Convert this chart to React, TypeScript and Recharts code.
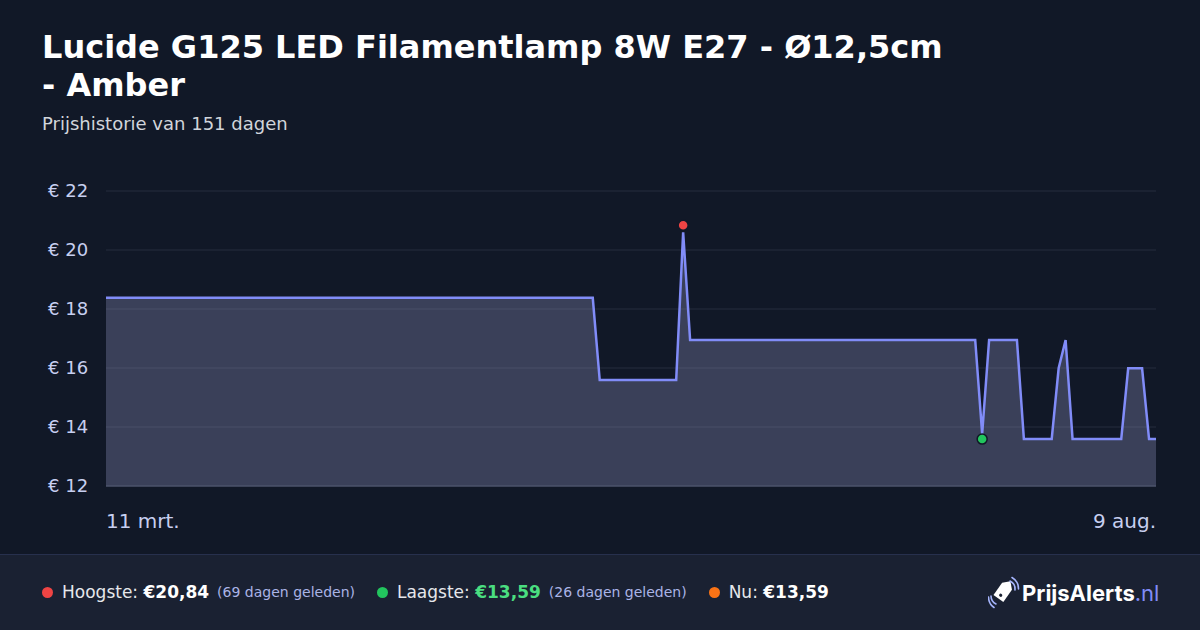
import React from "react";
import {
  ComposedChart,
  Area,
  XAxis,
  YAxis,
  CartesianGrid,
  ReferenceDot,
} from "recharts";

// day index since 11 mrt. (0) up to 9 aug. (151)
const days = [0, 70, 71, 82, 83, 84, 125, 126, 127, 131, 132, 136, 137, 138, 139, 146, 147, 149, 150, 151];
const prices = [18.38, 18.38, 15.59, 15.59, 20.6, 16.95, 16.95, 13.77, 16.95, 16.95, 13.59, 13.59, 15.99, 16.95, 13.59, 13.59, 15.99, 15.99, 13.59, 13.59];

const yTicks = [12, 14, 16, 18, 20, 22];
const xTickDays = [0, 151];
const xTickLabels = ["11 mrt.", "9 aug."];

const highDay = 83;
const highPrice = 20.84;
const lowDay = 126;
const lowPrice = 13.59;

const title1 = "Lucide G125 LED Filamentlamp 8W E27 - Ø12,5cm";
const title2 = "- Amber";
const subtitle = "Prijshistorie van 151 dagen";

const stats = [
  { color: "#ef4444", label: "Hoogste:", value: "€20,84", valueColor: "#ffffff", note: "(69 dagen geleden)" },
  { color: "#22c55e", label: "Laagste:", value: "€13,59", valueColor: "#4ade80", note: "(26 dagen geleden)" },
  { color: "#f97316", label: "Nu:", value: "€13,59", valueColor: "#ffffff", note: "" },
];

const data = days.map((d, i) => ({ day: d, price: prices[i] }));

const FONT = "'DejaVu Sans', sans-serif";

const YTick = (props: any) => (
  <text x={48} y={props.y} dy="0.35em" fill="#c7cff0" fontSize={18} fontFamily={FONT} textAnchor="start">
    {`€ ${props.payload.value}`}
  </text>
);

const XTick = (props: any) => {
  const idx = xTickDays.indexOf(props.payload.value);
  const anchor = idx === 0 ? "start" : "end";
  return (
    <text x={props.x} y={props.y} dy={34} fill="#c7cff0" fontSize={20} fontFamily={FONT} textAnchor={anchor}>
      {xTickLabels[idx]}
    </text>
  );
};

const Logo = () => (
  <div style={{ position: "absolute", left: 988, top: 576, display: "flex", alignItems: "center" }}>
    <svg width="32" height="34" viewBox="0 0 32 34">
      <g transform="rotate(35 15 16)">
        <path d="M9 9 L15 3 L21 9 L21 24 L9 24 Z" fill="#ffffff" />
        <circle cx="15" cy="20" r="1.6" fill="#1a2132" />
      </g>
      <path d="M22 5 A9 9 0 0 1 27 14" stroke="#a5b4fc" strokeWidth="1.6" fill="none" strokeLinecap="round" />
      <path d="M24 1.5 A13 13 0 0 1 30.5 13" stroke="#a5b4fc" strokeWidth="1.6" fill="none" strokeLinecap="round" />
      <path d="M3 20 A9 9 0 0 0 8 28" stroke="#a5b4fc" strokeWidth="1.6" fill="none" strokeLinecap="round" />
      <path d="M0.5 21 A13 13 0 0 0 6 31.5" stroke="#a5b4fc" strokeWidth="1.6" fill="none" strokeLinecap="round" />
    </svg>
    <span style={{ fontFamily: "Inter, sans-serif", fontSize: 22, fontWeight: 700, color: "#ffffff", marginLeft: 2 }}>
      PrijsAlerts
    </span>
    <span style={{ fontFamily: "Inter, sans-serif", fontSize: 22, fontWeight: 400, color: "#818cf8" }}>.nl</span>
  </div>
);

export default function App() {
  return (
    <div
      style={{
        position: "absolute",
        left: 0,
        top: 0,
        width: 1200,
        height: 630,
        background: "#111827",
        overflow: "hidden",
        fontFamily: FONT,
      }}
    >
      <div
        style={{
          position: "absolute",
          left: 42,
          top: 28,
          fontSize: 32,
          lineHeight: "38px",
          fontWeight: 700,
          color: "#ffffff",
          whiteSpace: "nowrap",
        }}
      >
        {title1}
        <br />
        {title2}
      </div>
      <div style={{ position: "absolute", left: 42, top: 113, fontSize: 18, color: "#d1d5db", whiteSpace: "nowrap" }}>
        {subtitle}
      </div>

      <div style={{ position: "absolute", left: 0, top: 0 }}>
        <ComposedChart width={1200} height={555} data={data} margin={{ top: 191, right: 44, left: 0, bottom: 39 }}>
          <CartesianGrid horizontal vertical={false} stroke="#262d3e" strokeWidth={1} />
          <XAxis
            dataKey="day"
            type="number"
            domain={[0, 151]}
            ticks={xTickDays}
            tick={<XTick />}
            tickLine={false}
            axisLine={{ stroke: "#4a5068", strokeWidth: 1.5 }}
            height={30}
            interval={0}
          />
          <YAxis
            type="number"
            domain={[12, 22]}
            ticks={yTicks}
            tick={<YTick />}
            axisLine={false}
            tickLine={false}
            width={106}
            interval={0}
          />
          <Area
            type="linear"
            dataKey="price"
            stroke="#818cf8"
            strokeWidth={2.5}
            fill="#9ca0cc"
            fillOpacity={0.3}
            isAnimationActive={false}
            dot={false}
            activeDot={false}
          />
          <ReferenceDot x={highDay} y={highPrice} r={5} fill="#ef4444" stroke="#111827" strokeWidth={1.5} />
          <ReferenceDot x={lowDay} y={lowPrice} r={5} fill="#22c55e" stroke="#111827" strokeWidth={1.5} />
        </ComposedChart>
      </div>

      <div
        style={{
          position: "absolute",
          left: 0,
          top: 554,
          width: 1200,
          height: 76,
          background: "#1a2132",
          borderTop: "1px solid #27304d",
        }}
      />
      <div
        style={{
          position: "absolute",
          left: 42,
          top: 580,
          height: 24,
          display: "flex",
          alignItems: "center",
          whiteSpace: "nowrap",
        }}
      >
        {stats.map((s, i) => (
          <div key={i} style={{ display: "flex", alignItems: "center", marginRight: 22 }}>
            <span
              style={{
                display: "inline-block",
                width: 11,
                height: 11,
                borderRadius: "50%",
                background: s.color,
                marginRight: 9,
              }}
            />
            <span style={{ fontSize: 17, color: "#e5e7eb" }}>{s.label}&nbsp;</span>
            <span style={{ fontSize: 17, fontWeight: 700, color: s.valueColor }}>{s.value}</span>
            {s.note ? (
              <span style={{ fontSize: 14, color: "#aab4e6", marginLeft: 8 }}>{s.note}</span>
            ) : null}
          </div>
        ))}
      </div>
      <Logo />
    </div>
  );
}
